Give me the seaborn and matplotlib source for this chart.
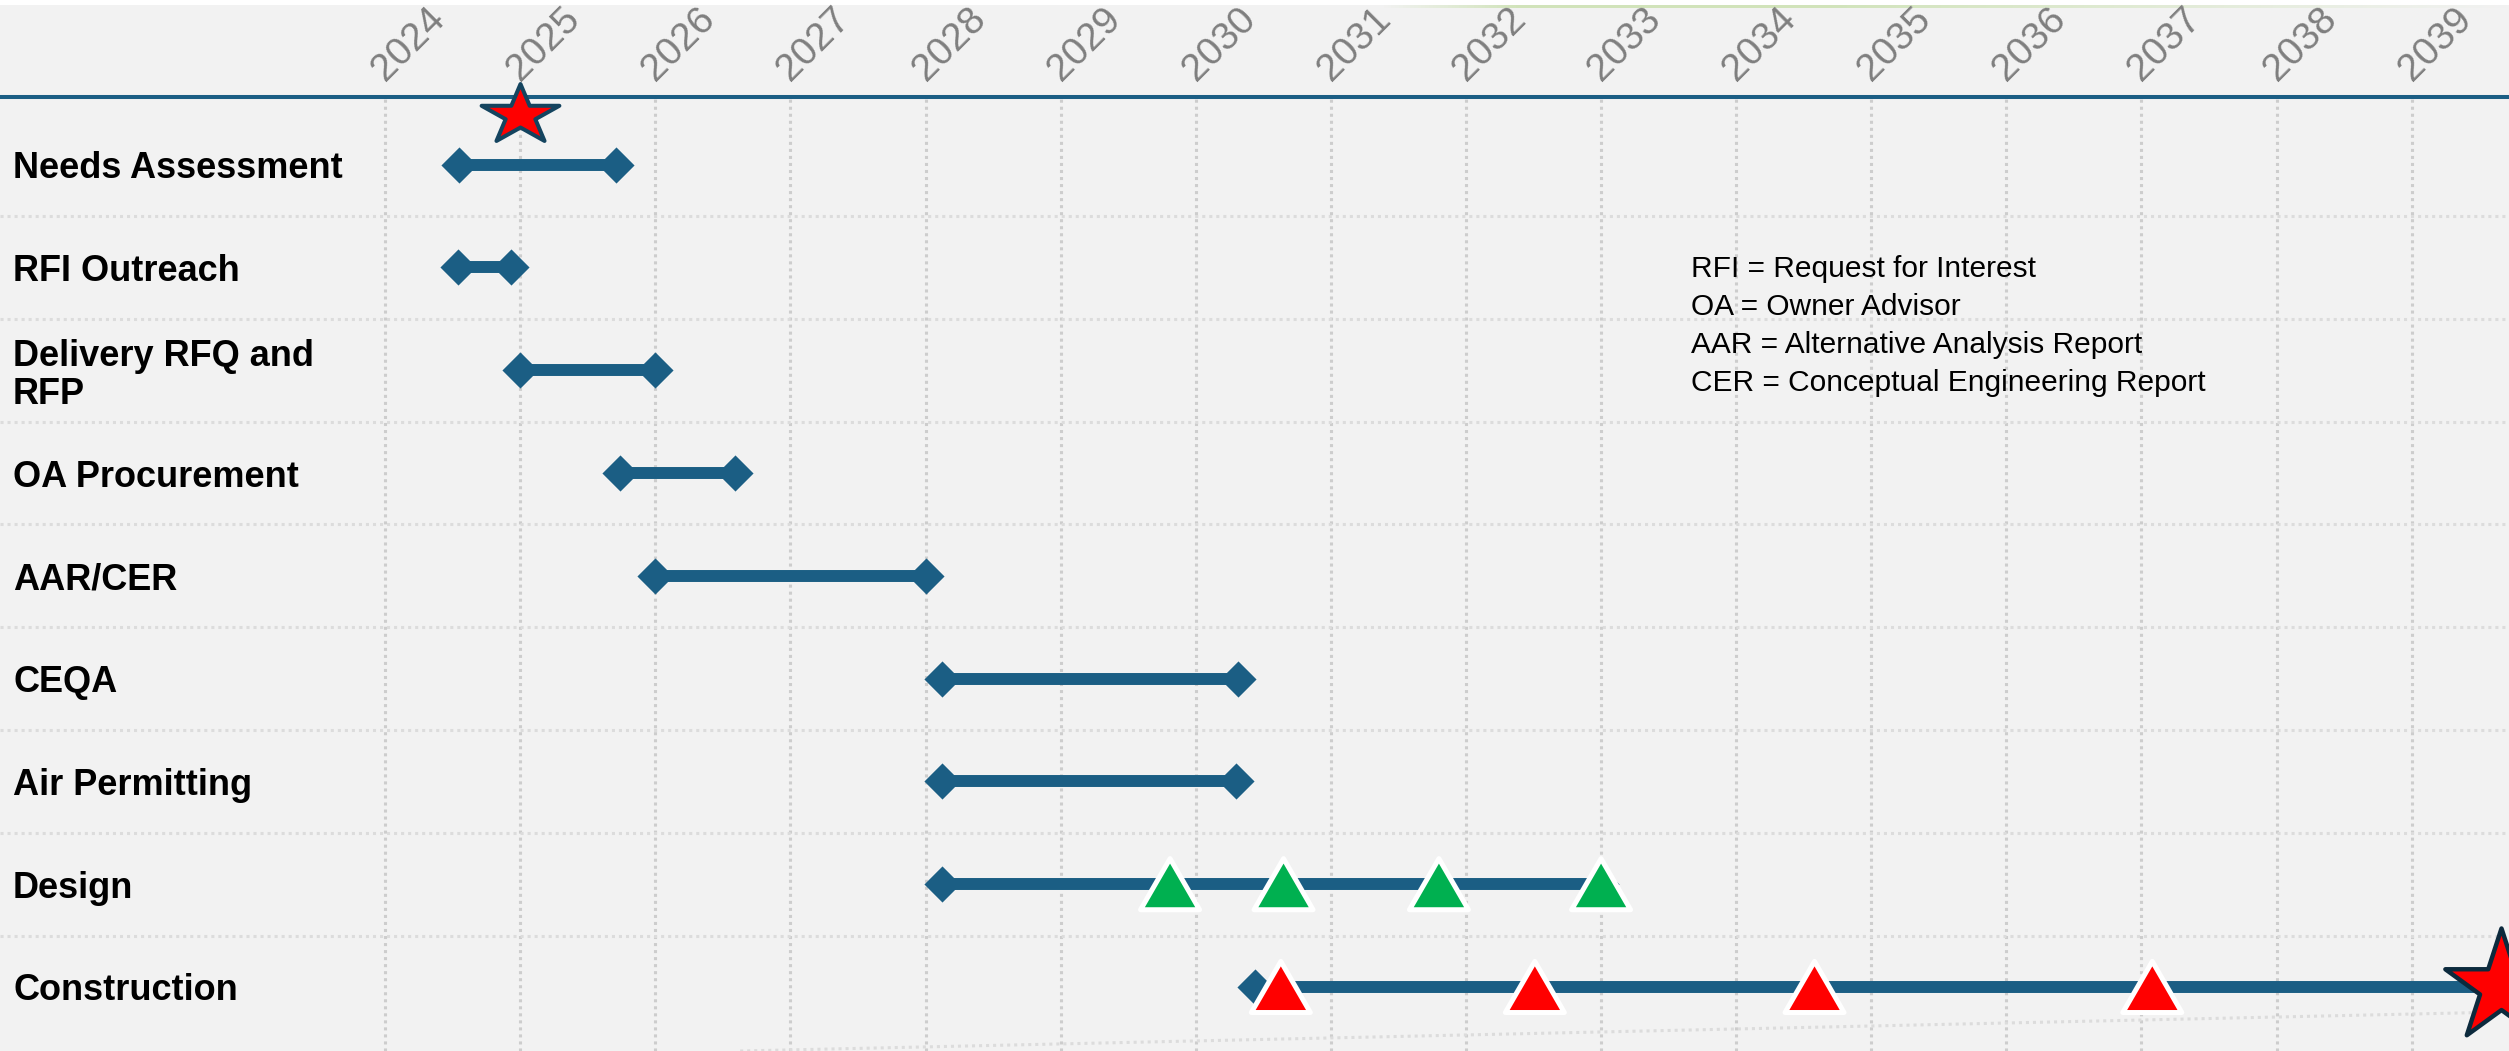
import numpy as np
import pandas as pd
import matplotlib
matplotlib.use("Agg")
import matplotlib.pyplot as plt
from matplotlib import font_manager
from matplotlib.path import Path
from matplotlib.patches import Rectangle
import seaborn as sns

# schedule rows, top to bottom
tasks = ["Needs Assessment", "RFI Outreach", "Delivery RFQ and\nRFP", "OA Procurement",
         "AAR/CER", "CEQA", "Air Permitting", "Design", "Construction"]
start = [2024.55, 2024.54, 2025.0, 2025.74, 2026.0, 2028.12, 2028.12, 2028.12, 2030.44]
end = [2025.71, 2024.93, 2026.0, 2026.59, 2028.0, 2030.31, 2030.30, 2033.0, 2039.66]

# milestones
design_milestones = [2029.81, 2030.65, 2031.80, 2033.0]
construction_milestones = [2030.63, 2032.51, 2034.58, 2037.08]
today = 2025.0
completion = 2039.66

years = list(range(2024, 2040))

notes = ["RFI = Request for Interest", "OA = Owner Advisor",
         "AAR = Alternative Analysis Report", "CER = Conceptual Engineering Report"]

bg = "#f2f2f2"
bar_color = "#1b5e84"

sns.set_style("white", rc={"axes.facecolor": bg, "figure.facecolor": bg})
names = {f.name for f in font_manager.fontManager.ttflist}
if "Liberation Sans Narrow" in names:
    narrow, label_size, note_size = "Liberation Sans Narrow", 30, 26
else:
    narrow, label_size, note_size = "Liberation Sans", 26, 21.5
plt.rcParams["font.family"] = ["Liberation Sans", "DejaVu Sans"]

W, H = 2509, 1051
fig = plt.figure(figsize=(W / 100, H / 100), dpi=100)
ax = fig.add_axes([0, 0, 1, 1 - 97 / H])

n = len(tasks)
rows = list(range(n))
bars = pd.DataFrame({"task": tasks * 2, "row": rows * 2, "year": start + end})

# bars and end diamonds
sns.lineplot(data=bars, x="year", y="row", units="task", estimator=None, sort=False,
             color=bar_color, lw=8.6, solid_capstyle="butt", legend=False, ax=ax, zorder=2)
sns.scatterplot(data=bars, x="year", y="row", marker="D", s=18.4 ** 2, color=bar_color,
                linewidth=0, legend=False, ax=ax, zorder=3)

# milestone triangles
tri = Path([(0, 0.433), (-0.5, -0.433), (0.5, -0.433), (0, 0.433)], closed=True)
ms = pd.DataFrame({
    "year": design_milestones + construction_milestones,
    "row": [7] * len(design_milestones) + [8] * len(construction_milestones),
    "kind": ["design"] * len(design_milestones) + ["construction"] * len(construction_milestones),
})
sns.scatterplot(data=ms, x="year", y="row", hue="kind",
                palette={"design": "#00b050", "construction": "#ff0000"},
                marker=tri, s=42.5 ** 2, edgecolor="white", linewidth=3.6,
                legend=False, ax=ax, zorder=4)

# stars
def star(stretch=1.0, inner=0.382):
    ang = np.deg2rad(90 + 36 * np.arange(10))
    r = np.where(np.arange(10) % 2 == 0, 1.0, inner)
    v = np.column_stack([r * np.cos(ang) * stretch, r * np.sin(ang)])
    return Path(np.vstack([v, v[:1]]), closed=True)

ax.scatter([completion], [8], marker=star(), s=85 ** 2, color="#ff0000",
           edgecolor="#0c2a3d", linewidth=3.2, zorder=6, clip_on=False)
ax.scatter([today], [0.981], transform=ax.get_xaxis_transform(), marker=star(1.3),
           s=56 ** 2, color="#ff0000", edgecolor="#14445f", linewidth=2.9,
           zorder=6, clip_on=False)

# axes / grid
ax.set_xlim(2021.15, 2039.72)
ax.set_ylim(8.623, -0.658)
ax.set(xlabel="", ylabel="")
ax.set_axisbelow(True)
ax.xaxis.tick_top()
ax.set_xticks(years)
ax.set_xticklabels([str(y) for y in years])
ax.set_yticks(rows)
ax.set_yticklabels(tasks)
ax.set_yticks(np.arange(0.5, n - 1, 1), minor=True)
ax.tick_params(axis="x", length=0, pad=10.8, colors="#7f7f7f", labelsize=28)
ax.tick_params(axis="y", which="both", length=0, pad=-9.4)
ax.grid(axis="x", color="#cdcdcd", lw=2.2, ls=(0, (1, 1.3)))
ax.grid(axis="y", which="minor", color="#dcdcdc", lw=2.2, ls=(0, (1, 1.3)))
ax.grid(axis="y", which="major", visible=False)
plt.setp(ax.get_xticklabels(), rotation=45, ha="left", va="baseline", rotation_mode="anchor")
plt.setp(ax.get_yticklabels(), family=narrow, weight="bold", fontsize=label_size,
         color="black", ha="left", multialignment="left", linespacing=1.1)

for side in ["left", "right", "bottom"]:
    ax.spines[side].set_visible(False)
ax.spines["top"].set_color(bar_color)
ax.spines["top"].set_linewidth(2.9)

# slanted table border at the bottom
ax.plot([0.295, 1.0], [0.0, 0.041], transform=ax.transAxes, color="#dcdcdc",
        lw=2.2, ls=(0, (1, 1.3)), zorder=1)

# abbreviations
fig.text(1691 / W, 1 - 326 / H, "\n".join(notes), family=narrow, fontsize=note_size,
         va="center", ha="left", linespacing=1.44, color="black")

# white strip and green swoosh along the top edge
fig.patches.append(Rectangle((0, 1 - 5 / H), 1, 5 / H, transform=fig.transFigure,
                             facecolor="white", edgecolor="none", zorder=-1))
deco = fig.add_axes([1380 / W, 1 - 8 / H, (W - 1380) / W, 8 / H], zorder=-1)
t = np.linspace(0, 1, 300)
alpha = np.clip(np.minimum(t / 0.12, (1 - t) / 0.6), 0, 1) * 0.8
img = np.zeros((1, 300, 4))
img[..., :3] = matplotlib.colors.to_rgb("#c9e0ad")
img[..., 3] = alpha
deco.imshow(img, aspect="auto")
deco.axis("off")

fig.savefig("out.png", dpi=100, facecolor=fig.get_facecolor())
